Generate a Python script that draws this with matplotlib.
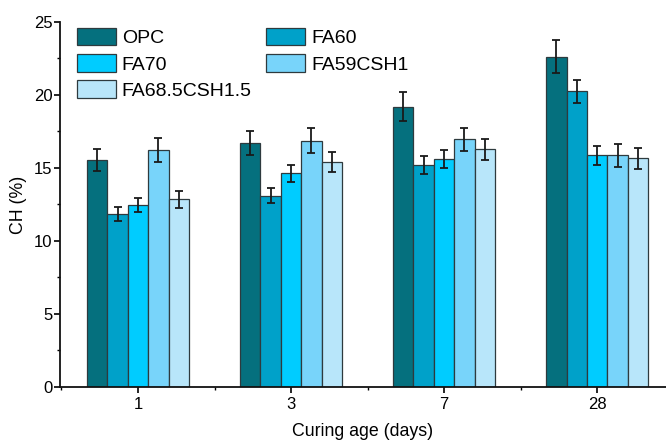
import matplotlib
matplotlib.use("Agg")
import matplotlib.pyplot as plt
from matplotlib.ticker import MultipleLocator
import numpy as np

ages = ["1", "3", "7", "28"]
mixes = ["OPC", "FA60", "FA70", "FA59CSH1", "FA68.5CSH1.5"]
colors = ["#05707E", "#00A1C9", "#00CCFF", "#78D4FA", "#B8E6FA"]

ch_opc = [15.55, 16.69, 19.18, 22.62]
ch_fa60 = [11.83, 13.10, 15.21, 20.24]
ch_fa70 = [12.47, 14.63, 15.59, 15.85]
ch_fa59 = [16.23, 16.87, 16.96, 15.85]
ch_fa685 = [12.85, 15.39, 16.28, 15.66]

err_opc = [0.75, 0.80, 1.00, 1.10]
err_fa60 = [0.48, 0.50, 0.60, 0.78]
err_fa70 = [0.48, 0.60, 0.63, 0.64]
err_fa59 = [0.80, 0.85, 0.80, 0.80]
err_fa685 = [0.60, 0.68, 0.72, 0.72]

values = [ch_opc, ch_fa60, ch_fa70, ch_fa59, ch_fa685]
errors = [err_opc, err_fa60, err_fa70, err_fa59, err_fa685]

TEXT_FONT = ["Liberation Sans", "DejaVu Sans"]

fig = plt.figure(figsize=(6.66, 4.4), dpi=100)
fig.patch.set_facecolor("white")
ax = fig.add_axes([0.090, 0.1205, 0.91, 0.830])

x = np.arange(len(ages))
width = 0.1333
handles = []
for i, (name, vals, errs, col) in enumerate(zip(mixes, values, errors, colors)):
    pos = x + (i - 2) * width
    b = ax.bar(pos, vals, width, color=col, edgecolor="#2E3A3E", linewidth=0.9,
               label=name, zorder=2)
    ax.errorbar(pos, vals, yerr=errs, fmt="none", ecolor="#1A1A1A",
                elinewidth=1.3, capsize=3, capthick=1.3, zorder=3)
    handles.append(b)

ax.set_xlim(-0.51, 3.45)
ax.set_ylim(0, 25)
ax.set_xticks(x)
ax.set_xticklabels(ages, family=TEXT_FONT, fontsize=12)
ax.yaxis.set_major_locator(MultipleLocator(5))
ax.yaxis.set_minor_locator(MultipleLocator(2.5))
ax.xaxis.set_minor_locator(MultipleLocator(0.5))
for lab in ax.get_yticklabels():
    lab.set_family(TEXT_FONT)
    lab.set_fontsize(12)
ax.tick_params(which="major", direction="out", length=4, width=1.2)
ax.tick_params(axis="y", which="major", pad=1.5)
ax.tick_params(axis="x", which="major", pad=3)
ax.tick_params(which="minor", direction="out", length=2.5, width=1.0)
ax.tick_params(axis="x", which="minor", bottom=True)

for side in ["top", "right"]:
    ax.spines[side].set_visible(False)
for side in ["left", "bottom"]:
    ax.spines[side].set_linewidth(1.3)
    ax.spines[side].set_color("#111111")

ax.set_xlabel("Curing age (days)", family=TEXT_FONT, fontsize=12.8, labelpad=8)
ax.set_ylabel("CH (%)", family=TEXT_FONT, fontsize=12.8, labelpad=5)

order = [0, 2, 4, 1, 3]
fig.legend([handles[k] for k in order], [mixes[k] for k in order],
           ncol=2, loc="upper left", bbox_to_anchor=(77 / 666, (440 - 28) / 440),
           frameon=False, borderpad=0, borderaxespad=0,
           handlelength=2.0, handleheight=1.0, handletextpad=0.3,
           labelspacing=0.35, columnspacing=0.75,
           prop={"family": TEXT_FONT, "size": 14})

plt.savefig("out.png", dpi=100, facecolor="white")
plt.close()
